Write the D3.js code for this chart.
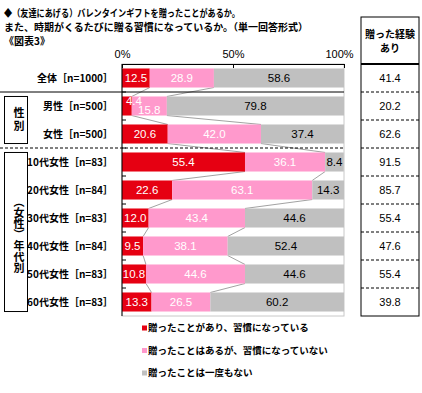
<!DOCTYPE html>
<meta charset="utf-8">
<style>
html,
body {
    margin: 0;
    padding: 0;
    background: #fff;
}

svg {
    display: block;
}

text {
    font-family: "Noto Sans CJK JP", sans-serif;
}

.num {
    font-family: "Liberation Sans", Arial, sans-serif;
}
</style>
<svg width="422" height="393"></svg>
<script src="https://d3js.org/d3.v7.min.js"></script>
<script>
// chart data
var groups = ["全体［n=1000］", "男性［n=500］", "女性［n=500］", "10代女性［n=83］", "20代女性［n=84］",
    "30代女性［n=83］", "40代女性［n=84］", "50代女性［n=83］", "60代女性［n=83］"];
var habit = [12.5, 4.4, 20.6, 55.4, 22.6, 12.0, 9.5, 10.8, 13.3];
var notHabit = [28.9, 15.8, 42.0, 36.1, 63.1, 43.4, 38.1, 44.6, 26.5];
var never = [58.6, 79.8, 37.4, 8.4, 14.3, 44.6, 52.4, 44.6, 60.2];
var experienced = [41.4, 20.2, 62.6, 91.5, 85.7, 55.4, 47.6, 55.4, 39.8];
var seriesNames = ["贈ったことがあり、習慣になっている", "贈ったことはあるが、習慣になっていない", "贈ったことは一度もない"];
var ticks = [0, 50, 100];
var titleLines = ["◆（友達にあげる）バレンタインギフトを贈ったことがあるか。",
    "また、時期がくるたびに贈る習慣になっているか。（単一回答形式）", "《図表3》"];
var tableHead = ["贈った経験", "あり"];
var boxLabels = ["性別", "（女性）年代別"];

var colors = ["#e60012", "#ff99cc", "#c0c0c0"];
var labelColors = ["#fff", "#fff", "#000"];

var svg = d3.select("svg");

var x = d3.scaleLinear().domain([0, 100]).range([122, 344]);
var y = d3.scaleBand().domain(groups).range([64, 316]).paddingInner(0.32).paddingOuter(0.16);
var bw = y.bandwidth();

// title (first line squeezed a bit, the original uses narrow kana)
svg.append("g").selectAll("text")
    .data(titleLines)
    .enter().append("text")
    .attr("x", 4)
    .attr("y", function(d, i) { return 13 + i * 14; })
    .attr("dy", "0.35em")
    .attr("textLength", function(d, i) { return i == 0 ? 236 : null; })
    .attr("lengthAdjust", "spacingAndGlyphs")
    .style("font-size", "10px")
    .style("font-weight", "bold")
    .text(function(d) { return d; });

// stacked rows
var rows = groups.map(function(g, i) {
    var vals = [habit[i], notHabit[i], never[i]];
    var x0 = 0;
    return vals.map(function(v, k) {
        var seg = { g: g, i: i, k: k, v: v, x0: x0, x1: x0 + v };
        x0 += v;
        return seg;
    });
});
var segs = [].concat.apply([], rows);

// plot area border
svg.append("rect")
    .attr("x", x(0))
    .attr("y", y.range()[0])
    .attr("width", x(100) - x(0))
    .attr("height", y.range()[1] - y.range()[0])
    .attr("fill", "none")
    .attr("stroke", "#c8c8c8")
    .attr("stroke-width", 1);

// series connectors
var connectors = [];
for (var i = 0; i < groups.length - 1; i++) {
    [0, 1].forEach(function(k) {
        connectors.push({ a: rows[i][k].x1, b: rows[i + 1][k].x1, ga: groups[i], gb: groups[i + 1] });
    });
}
svg.append("g").selectAll("line")
    .data(connectors)
    .enter().append("line")
    .attr("x1", function(d) { return x(d.a); })
    .attr("y1", function(d) { return y(d.ga) + bw; })
    .attr("x2", function(d) { return x(d.b); })
    .attr("y2", function(d) { return y(d.gb); })
    .attr("stroke", "#8a8a8a")
    .attr("stroke-width", 0.8);

svg.append("g").selectAll("rect")
    .data(segs)
    .enter().append("rect")
    .attr("x", function(d) { return x(d.x0); })
    .attr("y", function(d) { return y(d.g); })
    .attr("width", function(d) { return x(d.x1) - x(d.x0); })
    .attr("height", bw)
    .attr("fill", function(d) { return colors[d.k]; });

// value labels (男性 row nudged like the original)
function nudgeX(d) { return (d.i == 1 && d.k == 0) ? 7 : 0; }
function nudgeY(d) {
    if (d.i == 1 && d.k == 0) return -5.5;
    if (d.i == 1 && d.k == 1) return 3.5;
    return 0;
}
svg.append("g").selectAll("text")
    .data(segs)
    .enter().append("text")
    .attr("class", "num")
    .attr("x", function(d) { return (x(d.x0) + x(d.x1)) / 2 + nudgeX(d); })
    .attr("y", function(d) { return y(d.g) + bw / 2 + nudgeY(d); })
    .attr("dy", "0.35em")
    .attr("text-anchor", "middle")
    .attr("fill", function(d) { return labelColors[d.k]; })
    .style("font-size", "11.5px")
    .text(function(d) { return d.v.toFixed(1); });

// top axis
var axis = svg.append("g")
    .attr("transform", "translate(0," + y.range()[0] + ")")
    .call(d3.axisTop(x).tickValues(ticks).tickFormat(function(d) { return d + "%"; })
        .tickSizeInner(-4).tickSizeOuter(0).tickPadding(6));
axis.selectAll("text")
    .style("font-family", "'Liberation Sans', Arial, sans-serif")
    .style("font-size", "11px")
    .attr("fill", "#000")
    .attr("dx", function(d) { return d == 100 ? -5 : 0; });

// left axis with ticks at row boundaries
var gap = y.step() * y.paddingInner() / 2;
svg.append("line")
    .attr("x1", x(0)).attr("x2", x(0))
    .attr("y1", y.range()[0]).attr("y2", y.range()[1])
    .attr("stroke", "#000");
svg.append("g").selectAll("line")
    .data(groups.slice(1))
    .enter().append("line")
    .attr("x1", x(0)).attr("x2", x(0) + 4)
    .attr("y1", function(d) { return y(d) - gap; })
    .attr("y2", function(d) { return y(d) - gap; })
    .attr("stroke", "#000");

// row labels
svg.append("g").selectAll("text")
    .data(groups)
    .enter().append("text")
    .attr("x", 113)
    .attr("y", function(d) { return y(d) + bw / 2; })
    .attr("dy", "0.35em")
    .attr("text-anchor", "end")
    .style("font-size", "10px")
    .style("font-weight", "bold")
    .text(function(d) { return d; });

// separators
var sep1 = y(groups[1]) - gap;
var sep2 = y(groups[3]) - gap;
svg.append("line")
    .attr("x1", 0).attr("x2", x(100))
    .attr("y1", sep1).attr("y2", sep1)
    .attr("stroke", "#000");
svg.append("line")
    .attr("x1", 0).attr("x2", x(100))
    .attr("y1", sep2).attr("y2", sep2)
    .attr("stroke", "#000")
    .attr("stroke-dasharray", "3,2");

// group boxes with vertical labels
var boxes = [
    { label: boxLabels[0], top: y(groups[1]), bottom: y(groups[2]) + bw, dy: 0, ls: "2px" },
    { label: boxLabels[1], top: y(groups[3]), bottom: y(groups[8]) + bw, dy: 3, ls: "0px" }
];
svg.append("g").selectAll("rect")
    .data(boxes)
    .enter().append("rect")
    .attr("x", 4.5)
    .attr("y", function(d) { return d.top; })
    .attr("width", 23)
    .attr("height", function(d) { return d.bottom - d.top; })
    .attr("fill", "none")
    .attr("stroke", "#000");
svg.append("g").selectAll("text")
    .data(boxes)
    .enter().append("text")
    .attr("x", 19)
    .attr("y", function(d) { return (d.top + d.bottom) / 2 + d.dy; })
    .attr("text-anchor", "middle")
    .style("writing-mode", "vertical-rl")
    .style("font-size", "11px")
    .style("font-weight", "bold")
    .style("letter-spacing", function(d) { return d.ls; })
    .text(function(d) { return d.label; });

// right table
var tx0 = 361, tx1 = 419, ttop = 17;
svg.append("rect")
    .attr("x", tx0).attr("y", ttop)
    .attr("width", tx1 - tx0).attr("height", y.range()[1] - ttop)
    .attr("fill", "none").attr("stroke", "#000");
svg.append("line")
    .attr("x1", tx0).attr("x2", tx1)
    .attr("y1", y.range()[0]).attr("y2", y.range()[0])
    .attr("stroke", "#000").attr("stroke-width", 2);
svg.append("g").selectAll("line")
    .data(groups.slice(1))
    .enter().append("line")
    .attr("x1", tx0).attr("x2", tx1)
    .attr("y1", function(d) { return y(d) - gap; })
    .attr("y2", function(d) { return y(d) - gap; })
    .attr("stroke", "#000")
    .attr("stroke-dasharray", "3,2");
svg.append("g").selectAll("text")
    .data(tableHead)
    .enter().append("text")
    .attr("x", (tx0 + tx1) / 2)
    .attr("y", function(d, i) { return 34 + i * 14.5; })
    .attr("dy", "0.35em")
    .attr("text-anchor", "middle")
    .style("font-size", "10px")
    .style("font-weight", "bold")
    .text(function(d) { return d; });
svg.append("g").selectAll("text")
    .data(experienced)
    .enter().append("text")
    .attr("class", "num")
    .attr("x", (tx0 + tx1) / 2)
    .attr("y", function(d, i) { return y(groups[i]) + bw / 2; })
    .attr("dy", "0.35em")
    .attr("text-anchor", "middle")
    .style("font-size", "11px")
    .text(function(d) { return d.toFixed(1); });

// legend
var legend = svg.append("g").selectAll("g")
    .data(seriesNames)
    .enter().append("g")
    .attr("transform", function(d, i) { return "translate(142," + (328 + i * 22.5) + ")"; });
legend.append("rect")
    .attr("x", 0).attr("y", -2.5)
    .attr("width", 5).attr("height", 5)
    .attr("fill", function(d, i) { return colors[i]; });
legend.append("text")
    .attr("x", 6)
    .attr("dy", "0.35em")
    .style("font-size", "9.5px")
    .style("font-weight", "bold")
    .text(function(d) { return d; });
</script>
